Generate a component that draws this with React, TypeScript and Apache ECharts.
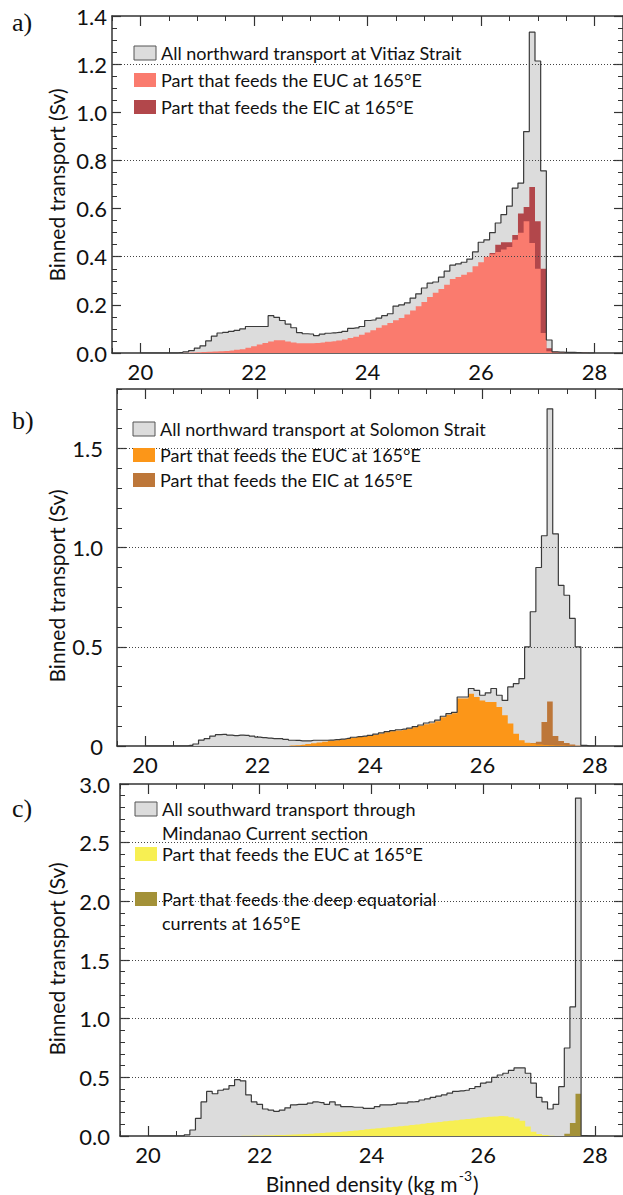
import React, { useEffect, useRef } from "react";
import * as echarts from "echarts";

// ---------- data ----------
// bin centres of density (kg m-3), 0.1 wide bins
const densityBins = [
  20.0, 20.1, 20.2, 20.3, 20.4, 20.5, 20.6, 20.7, 20.8, 20.9,
  21.0, 21.1, 21.2, 21.3, 21.4, 21.5, 21.6, 21.7, 21.8, 21.9,
  22.0, 22.1, 22.2, 22.3, 22.4, 22.5, 22.6, 22.7, 22.8, 22.9,
  23.0, 23.1, 23.2, 23.3, 23.4, 23.5, 23.6, 23.7, 23.8, 23.9,
  24.0, 24.1, 24.2, 24.3, 24.4, 24.5, 24.6, 24.7, 24.8, 24.9,
  25.0, 25.1, 25.2, 25.3, 25.4, 25.5, 25.6, 25.7, 25.8, 25.9,
  26.0, 26.1, 26.2, 26.3, 26.4, 26.5, 26.6, 26.7, 26.8, 26.9,
  27.0, 27.1, 27.2, 27.3, 27.4, 27.5, 27.6, 27.7, 27.8, 27.9,
  28.0,
];

// a) Vitiaz Strait
const vitiazAll = [
  0, 0, 0, 0, 0, 0, 0, 0.002, 0.005, 0.01,
  0.02, 0.03, 0.05, 0.07, 0.083, 0.086, 0.09, 0.094, 0.1, 0.11,
  0.11, 0.11, 0.11, 0.155, 0.148, 0.135, 0.12, 0.105, 0.085, 0.08,
  0.079, 0.072, 0.078, 0.082, 0.084, 0.086, 0.09, 0.102, 0.104, 0.11,
  0.135, 0.137, 0.145, 0.155, 0.163, 0.195, 0.2, 0.208, 0.228, 0.246,
  0.27, 0.29, 0.295, 0.315, 0.34, 0.365, 0.37, 0.377, 0.39, 0.42,
  0.46, 0.47, 0.5, 0.54, 0.575, 0.61, 0.685, 0.706, 0.92, 1.333,
  1.213, 0.757, 0.054, 0.005, 0.004, 0.003, 0.003, 0.002, 0.001, 0,
  0,
];
const vitiazEUC = [
  0, 0, 0, 0, 0, 0, 0, 0.001, 0.001, 0.002,
  0.003, 0.004, 0.005, 0.006, 0.007, 0.008, 0.01, 0.013, 0.016, 0.022,
  0.028, 0.035, 0.042, 0.048, 0.053, 0.053, 0.048, 0.044, 0.041, 0.04,
  0.04, 0.042, 0.044, 0.047, 0.049, 0.052, 0.056, 0.062, 0.068, 0.076,
  0.085, 0.095, 0.105, 0.115, 0.125, 0.136, 0.145, 0.16, 0.177, 0.194,
  0.212, 0.233, 0.25, 0.266, 0.284, 0.307, 0.316, 0.325, 0.335, 0.36,
  0.377, 0.4, 0.41, 0.42, 0.43, 0.44, 0.47, 0.5, 0.547, 0.457,
  0.35, 0.083, 0.007, 0.004, 0.003, 0.003, 0.002, 0.002, 0.001, 0,
  0,
];
const vitiazEIC = [
  0, 0, 0, 0, 0, 0, 0, 0, 0, 0,
  0, 0, 0, 0, 0, 0, 0, 0, 0, 0,
  0, 0, 0, 0, 0, 0, 0, 0, 0, 0,
  0, 0, 0, 0, 0, 0, 0, 0, 0, 0,
  0, 0, 0, 0, 0, 0, 0, 0, 0, 0,
  0, 0, 0, 0, 0, 0, 0, 0, 0, 0,
  0, 0, 0.005, 0.03, 0.03, 0.02, 0.02, 0.08, 0.06, 0.233,
  0.197, 0.267, 0.013, 0.001, 0, 0, 0, 0, 0, 0,
  0,
];

// b) Solomon Strait
const solomonAll = [
  0, 0, 0, 0, 0, 0, 0, 0, 0.003, 0.01,
  0.03, 0.037, 0.05, 0.057, 0.059, 0.055, 0.052, 0.055, 0.054, 0.05,
  0.045, 0.042, 0.04, 0.037, 0.037, 0.033, 0.029, 0.028, 0.026, 0.026,
  0.029, 0.029, 0.029, 0.03, 0.032, 0.035, 0.038, 0.044, 0.047, 0.05,
  0.054, 0.06, 0.066, 0.072, 0.078, 0.082, 0.085, 0.09, 0.098, 0.106,
  0.116, 0.121, 0.13, 0.15, 0.163, 0.17, 0.247, 0.247, 0.29, 0.28,
  0.256, 0.268, 0.29, 0.256, 0.23, 0.298, 0.315, 0.34, 0.5, 0.677,
  0.9, 1.06, 1.7, 1.07, 0.81, 0.76, 0.643, 0.5, 0.003, 0.001,
  0,
];
const solomonEUC = [
  0, 0, 0, 0, 0, 0, 0, 0, 0, 0,
  0, 0, 0, 0, 0, 0, 0, 0, 0, 0,
  0, 0, 0, 0, 0, 0, 0.002, 0.004, 0.006, 0.01,
  0.014, 0.018, 0.022, 0.026, 0.029, 0.033, 0.036, 0.041, 0.045, 0.048,
  0.052, 0.057, 0.063, 0.069, 0.074, 0.078, 0.081, 0.087, 0.094, 0.102,
  0.11, 0.115, 0.125, 0.145, 0.158, 0.165, 0.24, 0.24, 0.264, 0.247,
  0.23, 0.222, 0.222, 0.197, 0.155, 0.113, 0.062, 0.029, 0.017, 0.012,
  0.008, 0.005, 0.004, 0.003, 0.002, 0.001, 0, 0, 0, 0,
  0,
];
const solomonEIC = [
  0, 0, 0, 0, 0, 0, 0, 0, 0, 0,
  0, 0, 0, 0, 0, 0, 0, 0, 0, 0,
  0, 0, 0, 0, 0, 0, 0, 0, 0, 0,
  0, 0, 0, 0, 0, 0, 0, 0, 0, 0,
  0, 0, 0, 0, 0, 0, 0, 0, 0, 0,
  0, 0, 0, 0, 0, 0, 0, 0, 0, 0,
  0, 0, 0, 0, 0, 0, 0, 0, 0, 0.003,
  0.014, 0.116, 0.221, 0.047, 0.023, 0.014, 0.007, 0.002, 0, 0,
  0,
];

// c) Mindanao Current
const mindanaoAll = [
  0, 0, 0, 0, 0, 0, 0, 0.01, 0.051, 0.15,
  0.29, 0.38, 0.36, 0.39, 0.4, 0.43, 0.48, 0.47, 0.35, 0.29,
  0.27, 0.23, 0.22, 0.21, 0.22, 0.24, 0.265, 0.27, 0.27, 0.28,
  0.29, 0.285, 0.27, 0.29, 0.265, 0.25, 0.25, 0.245, 0.245, 0.236,
  0.236, 0.25, 0.265, 0.265, 0.27, 0.28, 0.28, 0.29, 0.293, 0.307,
  0.316, 0.33, 0.34, 0.35, 0.365, 0.38, 0.385, 0.39, 0.405, 0.42,
  0.45, 0.46, 0.5, 0.52, 0.535, 0.56, 0.58, 0.58, 0.535, 0.45,
  0.33, 0.29, 0.23, 0.27, 0.42, 0.75, 1.1, 2.88, 0.003, 0.001,
  0,
];
const mindanaoEUC = [
  0, 0, 0, 0, 0, 0, 0, 0, 0, 0,
  0, 0, 0, 0, 0, 0, 0.001, 0.002, 0.003, 0.004,
  0.005, 0.006, 0.007, 0.008, 0.009, 0.011, 0.013, 0.015, 0.018, 0.02,
  0.023, 0.026, 0.029, 0.032, 0.035, 0.039, 0.043, 0.047, 0.052, 0.057,
  0.062, 0.067, 0.071, 0.075, 0.079, 0.083, 0.088, 0.093, 0.098, 0.104,
  0.11, 0.115, 0.12, 0.125, 0.13, 0.135, 0.14, 0.145, 0.15, 0.155,
  0.16, 0.163, 0.167, 0.17, 0.168, 0.16, 0.15, 0.13, 0.08, 0.037,
  0.017, 0.008, 0.003, 0.001, 0, 0, 0, 0, 0, 0,
  0,
];
const mindanaoDeep = [
  0, 0, 0, 0, 0, 0, 0, 0, 0, 0,
  0, 0, 0, 0, 0, 0, 0, 0, 0, 0,
  0, 0, 0, 0, 0, 0, 0, 0, 0, 0,
  0, 0, 0, 0, 0, 0, 0, 0, 0, 0,
  0, 0, 0, 0, 0, 0, 0, 0, 0, 0,
  0, 0, 0, 0, 0, 0, 0, 0, 0, 0,
  0, 0, 0, 0, 0, 0, 0, 0, 0, 0,
  0, 0, 0, 0, 0, 0.02, 0.11, 0.36, 0, 0,
  0,
];

// ticks / labels
const xMajorTicks = [20, 22, 24, 26, 28];
const vitiazYTicks = [0, 0.2, 0.4, 0.6, 0.8, 1.0, 1.2, 1.4];
const vitiazGridLines = [0.4, 0.8, 1.2];
const solomonYTicks = [0, 0.5, 1.0, 1.5];
const solomonGridLines = [0.5, 1.0, 1.5];
const mindanaoYTicks = [0, 0.5, 1.0, 1.5, 2.0, 2.5, 3.0];
const mindanaoGridLines = [0.5, 1.0, 1.5, 2.0, 2.5];

const vitiazLegend = [
  "All northward transport at Vitiaz Strait",
  "Part that feeds the EUC at 165°E",
  "Part that feeds the EIC at 165°E",
];
const solomonLegend = [
  "All northward transport at Solomon Strait",
  "Part that feeds the EUC at 165°E",
  "Part that feeds the EIC at 165°E",
];
const mindanaoLegend = [
  "All southward transport through\nMindanao Current section",
  "Part that feeds the EUC at 165°E",
  "Part that feeds the deep equatorial\ncurrents at 165°E",
];
const panelLetters = ["a)", "b)", "c)"];
const yAxisTitle = "Binned transport (Sv)";

// ---------- styles ----------
const SANS = 'Lato, "Open Sans", sans-serif';
const SERIF = '"Liberation Serif", "DejaVu Serif", serif';
const AX = "#333333";
const GRAY_FILL = "#dcdcdc";
const GRAY_LINE = "#3a3a3a";

const panels = [
  {
    grid: { left: 112, top: 16, width: 513, height: 337 },
    yMax: 1.4,
    yTicks: vitiazYTicks,
    yMinor: 0.05,
    gridLines: vitiazGridLines,
    fmt: (v: number) => v.toFixed(1),
    labelMargin: 5,
    all: vitiazAll,
    part1: vitiazEUC,
    part2: vitiazEIC,
    c1: "#fa7b6e",
    c2: "#b2474b",
    legend: vitiazLegend,
    legendRows: [53, 80, 107],
    legendX: 134,
    nameY: 185,
    letterY: 22,
  },
  {
    grid: { left: 117, top: 389, width: 508, height: 357 },
    yMax: 1.8,
    yTicks: solomonYTicks,
    yMinor: 0.1,
    gridLines: solomonGridLines,
    fmt: (v: number) => (v === 0 ? "0" : v.toFixed(1)),
    labelMargin: 14,
    all: solomonAll,
    part1: solomonEUC,
    part2: solomonEIC,
    c1: "#fc9618",
    c2: "#bd7739",
    legend: solomonLegend,
    legendRows: [429, 455, 480],
    legendX: 133,
    nameY: 586,
    letterY: 420,
  },
  {
    grid: { left: 120, top: 784, width: 504, height: 352 },
    yMax: 3.0,
    yTicks: mindanaoYTicks,
    yMinor: 0.1,
    gridLines: mindanaoGridLines,
    fmt: (v: number) => v.toFixed(1),
    labelMargin: 10,
    all: mindanaoAll,
    part1: mindanaoEUC,
    part2: mindanaoDeep,
    c1: "#f7ef52",
    c2: "#a39138",
    legend: mindanaoLegend,
    legendRows: [809, 854, 899],
    legendX: 135,
    nameY: 959,
    letterY: 808,
  },
];

const pairs = (ys: number[]) => densityBins.map((x, i) => [x, ys[i]]);
// top of the second part, drawn on top of the first part (its own bins only)
const topOf = (base: number[], part: number[]) =>
  part.map((v, i) => (v > 0 ? base[i] + v : 0));

function buildOption() {
  const grid: any[] = [];
  const xAxis: any[] = [];
  const yAxis: any[] = [];
  const series: any[] = [];
  const graphic: any[] = [];

  panels.forEach((p, gi) => {
    grid.push({ ...p.grid, containLabel: false });

    const xb = { gridIndex: gi, type: "value", min: 19.5, max: 28.5, splitLine: { show: false } };
    const lineOn = { show: true, onZero: false, lineStyle: { color: AX, width: 1.5 } };
    const majorTick = { show: true, inside: true, length: 10, customValues: xMajorTicks, lineStyle: { color: AX, width: 1.2 } };
    const minorTickX = { show: true, inside: true, length: 5, lineStyle: { color: AX, width: 1 } };
    xAxis.push(
      {
        ...xb,
        position: "bottom",
        axisLine: lineOn,
        axisTick: majorTick,
        axisLabel: { show: true, customValues: xMajorTicks, fontSize: 22, fontFamily: SANS, color: "#111", margin: 7 },
      },
      { ...xb, interval: 0.5, position: "bottom", axisLine: { show: false, onZero: false }, axisTick: minorTickX, axisLabel: { show: false } },
      { ...xb, position: "top", axisLine: lineOn, axisTick: majorTick, axisLabel: { show: false } },
      { ...xb, interval: 0.5, position: "top", axisLine: { show: false, onZero: false }, axisTick: minorTickX, axisLabel: { show: false } }
    );

    const yb = { gridIndex: gi, type: "value", min: 0, max: p.yMax, splitLine: { show: false } };
    const yMajorTick = { show: true, inside: true, length: 9, customValues: p.yTicks, lineStyle: { color: AX, width: 1.2 } };
    const yMinorTick = { show: true, inside: true, length: 5, lineStyle: { color: AX, width: 1 } };
    yAxis.push(
      {
        ...yb,
        position: "left",
        axisLine: lineOn,
        axisTick: yMajorTick,
        axisLabel: {
          show: true,
          customValues: p.yTicks,
          formatter: p.fmt,
          fontSize: 22,
          fontFamily: SANS,
          color: "#111",
          margin: p.labelMargin,
        },
      },
      { ...yb, interval: p.yMinor, position: "left", axisLine: { show: false }, axisTick: yMinorTick, axisLabel: { show: false } },
      { ...yb, position: "right", axisLine: lineOn, axisTick: yMajorTick, axisLabel: { show: false } },
      { ...yb, interval: p.yMinor, position: "right", axisLine: { show: false }, axisTick: yMinorTick, axisLabel: { show: false } }
    );

    const common = {
      type: "line",
      step: "middle",
      xAxisIndex: gi * 4,
      yAxisIndex: gi * 4,
      symbol: "none",
      silent: true,
      animation: false,
    };
    series.push(
      {
        ...common,
        name: `all${gi}`,
        data: pairs(p.all),
        lineStyle: { width: 0, opacity: 0 },
        areaStyle: { color: GRAY_FILL, opacity: 1 },
        z: 1,
      },
      {
        ...common,
        name: `p2_${gi}`,
        data: pairs(topOf(p.part1, p.part2)),
        lineStyle: { width: 0, opacity: 0 },
        areaStyle: { color: p.c2, opacity: 1 },
        z: 2,
      },
      {
        ...common,
        name: `p1_${gi}`,
        data: pairs(p.part1),
        lineStyle: { width: 0, opacity: 0 },
        areaStyle: { color: p.c1, opacity: 1 },
        z: 3,
      },
      {
        ...common,
        name: `outline${gi}`,
        data: pairs(p.all),
        lineStyle: { width: 1.2, color: GRAY_LINE },
        z: 4,
        markLine: {
          silent: true,
          symbol: ["none", "none"],
          label: { show: false },
          lineStyle: { type: [1, 2], color: "#444", width: 1 },
          data: p.gridLines.map((v) => ({ yAxis: v })),
          z: 6,
        },
      }
    );

    // legend (drawn as graphics)
    const boxColors = [GRAY_FILL, p.c1, p.c2];
    p.legend.forEach((txt, k) => {
      const cy = p.legendRows[k];
      graphic.push({
        type: "rect",
        shape: { x: p.legendX, y: cy - 7, width: 22, height: 14 },
        style: { fill: boxColors[k], stroke: k === 0 ? "#555" : null, lineWidth: 1 },
        z: 100,
      });
      graphic.push({
        type: "text",
        x: p.legendX + 27,
        y: cy - 12,
        style: {
          text: txt,
          font: `18px ${SANS}`,
          fill: "#111",
          lineHeight: 24,
          align: "left",
          verticalAlign: "top",
        },
        z: 100,
      });
    });

    // panel letter
    graphic.push({
      type: "text",
      x: 12,
      y: p.letterY,
      style: { text: panelLetters[gi], font: `26px ${SERIF}`, fill: "#111", align: "left", verticalAlign: "middle" },
      z: 100,
    });

    // y axis title
    graphic.push({
      type: "text",
      x: 56,
      y: p.nameY,
      rotation: Math.PI / 2,
      style: { text: yAxisTitle, font: `21px ${SANS}`, fill: "#111", align: "center", verticalAlign: "middle" },
      z: 100,
    });
  });

  // x axis title (bottom panel)
  graphic.push({
    type: "text",
    x: 372,
    y: 1181,
    style: {
      text: "{a|Binned density (kg m}{s|-3}{a|)}",
      align: "center",
      verticalAlign: "middle",
      rich: {
        a: { fontSize: 21, fontFamily: SANS, fill: "#111", lineHeight: 26, verticalAlign: "bottom" },
        s: { fontSize: 14, fontFamily: SANS, fill: "#111", lineHeight: 26, verticalAlign: "top", padding: [0, 1, 0, 1] },
      },
    },
    z: 100,
  });

  return {
    animation: false,
    backgroundColor: "#ffffff",
    grid,
    xAxis,
    yAxis,
    series,
    graphic,
  };
}

export default function App() {
  const ref = useRef<HTMLDivElement>(null);
  useEffect(() => {
    document.body.style.margin = "0";
    const chart = echarts.init(ref.current as HTMLDivElement, null, { renderer: "svg" });
    chart.setOption(buildOption() as any);
    return () => chart.dispose();
  }, []);
  return <div ref={ref} style={{ width: 623, height: 1195 }} />;
}
